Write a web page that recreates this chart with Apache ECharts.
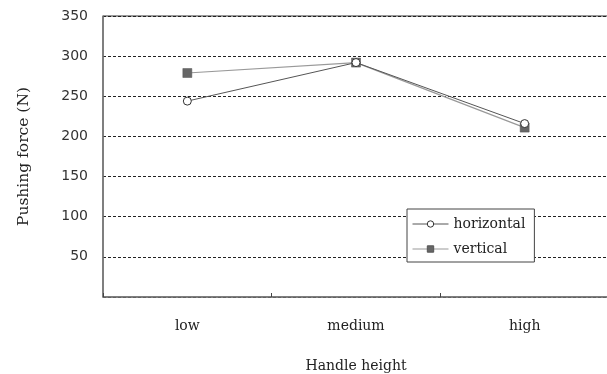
<!DOCTYPE html>
<html>
<head>
<meta charset="utf-8">
<script src="https://cdn.jsdelivr.net/npm/echarts@6/dist/echarts.min.js"></script>
<style>
  html, body { margin: 0; padding: 0; background: #fff; }
  #chart { width: 607px; height: 374px; }
</style>
</head>
<body>
<div id="chart"></div>
<script>
// data
const categories = ["low", "medium", "high"];
const horizontal = [244, 292, 216];
const vertical = [279, 292, 211];
const yTicks = [0, 50, 100, 150, 200, 250, 300, 350];

const serif = "DejaVu Serif";
const chart = echarts.init(document.getElementById("chart"));

chart.setOption({
  animation: false,
  backgroundColor: "#fff",
  grid: {
    left: 103,
    top: 16,
    right: -2,
    bottom: 77,
    outerBoundsMode: "none",
    containLabel: false,
    show: true,
    borderColor: "#333",
    borderWidth: 1
  },
  legend: {
    orient: "vertical",
    left: 407,
    top: 209,
    backgroundColor: "#fff",
    borderColor: "#444",
    borderWidth: 1,
    padding: [8, 9, 6, 5],
    itemWidth: 36,
    itemHeight: 8,
    itemGap: 11,
    lineStyle: { width: 1 },
    itemStyle: { borderWidth: 1 },
    textStyle: { fontFamily: serif, fontSize: 14, color: "#222" },
    data: ["horizontal", "vertical"]
  },
  xAxis: {
    type: "category",
    data: categories,
    boundaryGap: true,
    name: "Handle height",
    nameLocation: "middle",
    nameGap: 62,
    nameTextStyle: { fontFamily: serif, fontSize: 14, color: "#222" },
    axisLine: { lineStyle: { color: "#777", width: 1.5 } },
    axisTick: { show: true, length: 4, inside: true, lineStyle: { color: "#444" } },
    axisLabel: { fontFamily: serif, fontSize: 14, color: "#222", margin: 22 }
  },
  yAxis: {
    type: "value",
    min: yTicks[0],
    max: yTicks[yTicks.length - 1],
    interval: 50,
    name: "Pushing force (N)",
    nameLocation: "middle",
    nameGap: 71,
    nameTextStyle: { fontFamily: serif, fontSize: 15.5, color: "#222" },
    axisLine: { show: true, lineStyle: { color: "#777", width: 1.5 } },
    axisTick: { show: false },
    axisLabel: {
      fontFamily: "DejaVu Sans",
      fontSize: 14,
      color: "#333",
      margin: 15,
      formatter: v => (v === 0 ? "" : v)
    },
    splitLine: { show: true, lineStyle: { color: "#222", type: [3, 2], width: 1 } }
  },
  series: [
    {
      name: "horizontal",
      type: "line",
      data: horizontal,
      symbol: "circle",
      symbolSize: 8,
      lineStyle: { color: "#555", width: 1 },
      itemStyle: { color: "#fff", borderColor: "#333", borderWidth: 1 },
      z: 3
    },
    {
      name: "vertical",
      type: "line",
      data: vertical,
      symbol: "rect",
      symbolSize: 9,
      lineStyle: { color: "#999", width: 1.2 },
      itemStyle: { color: "#666", borderColor: "#555", borderWidth: 0.5 },
      z: 2
    }
  ]
});
</script>
</body>
</html>
